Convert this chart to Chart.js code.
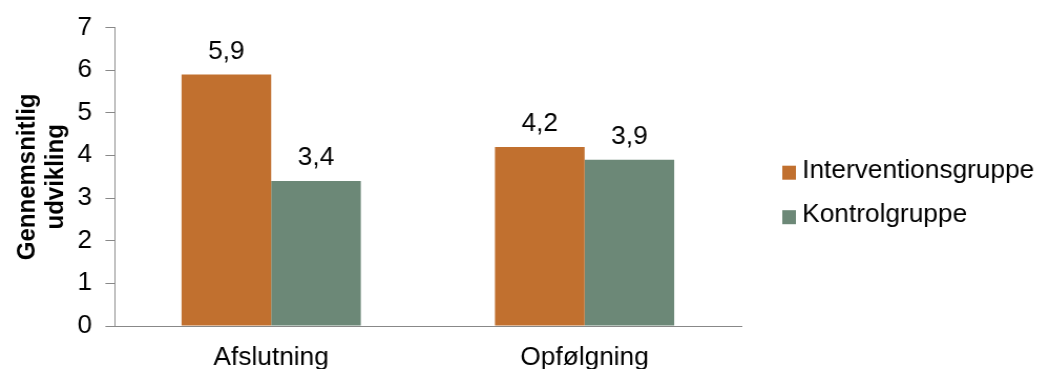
<!DOCTYPE html>
<html>
<head>
<meta charset="utf-8">
<script src="https://cdn.jsdelivr.net/npm/chart.js@4.4.1/dist/chart.umd.min.js"></script>
<style>
  html, body { margin: 0; padding: 0; background: #fff; overflow: hidden; width: 1038px; height: 369px; }
  /* laid out slightly narrower, then widened for the broad lettering */
  #wrap { width: 989px; height: 369px; position: relative; transform: scaleX(1.05); transform-origin: 0 0; }
</style>
</head>
<body>
<div id="wrap"><canvas id="chart"></canvas></div>
<script>
const categories = ["Afslutning", "Opfølgning"];
const interventionsgruppe = [5.9, 4.2];
const kontrolgruppe = [3.4, 3.9];
const yTicks = [0, 1, 2, 3, 4, 5, 6, 7];
const seriesNames = ["Interventionsgruppe", "Kontrolgruppe"];
const seriesColors = ["#C1702F", "#6C8877"];
const yTitle = ["Gennemsnitlig", "udvikling"];

const FONT = "'Liberation Sans', Arial, sans-serif";

// Writes each bar's value above it, with a decimal comma
const valueLabels = {
  id: "valueLabels",
  afterDatasetsDraw(chart) {
    const ctx = chart.ctx;
    ctx.save();
    ctx.font = "25px " + FONT;
    ctx.fillStyle = "#000";
    ctx.textAlign = "center";
    ctx.textBaseline = "alphabetic";
    chart.data.datasets.forEach((ds, i) => {
      chart.getDatasetMeta(i).data.forEach((bar, j) => {
        const txt = ds.data[j].toFixed(1).replace(".", ",");
        ctx.fillText(txt, bar.x, bar.y - 16);
      });
    });
    ctx.restore();
  }
};

// Series key to the right of the plot: square swatch + series name
const sideLegend = {
  id: "sideLegend",
  afterDraw(chart) {
    const ctx = chart.ctx;
    const area = chart.chartArea;
    const x0 = area.right + 39;
    ctx.save();
    ctx.font = "25px " + FONT;
    ctx.textAlign = "left";
    ctx.textBaseline = "middle";
    chart.data.datasets.forEach((ds, i) => {
      const cy = area.top + 145 + i * 44.5;
      ctx.fillStyle = ds.backgroundColor;
      ctx.fillRect(x0, cy - 7, 13, 14);
      ctx.fillStyle = "#000";
      ctx.fillText(ds.label, x0 + 19, cy - 2);
    });
    ctx.restore();
  }
};

new Chart(document.getElementById("chart"), {
  type: "bar",
  data: {
    labels: categories,
    datasets: [
      { label: seriesNames[0], data: interventionsgruppe, backgroundColor: seriesColors[0] },
      { label: seriesNames[1], data: kontrolgruppe, backgroundColor: seriesColors[1] }
    ]
  },
  options: {
    responsive: true,
    maintainAspectRatio: false,
    animation: false,
    layout: { padding: { top: 27, right: 283, left: 0, bottom: 0 } },
    datasets: { bar: { categoryPercentage: 0.572, barPercentage: 1.0 } },
    plugins: {
      legend: { display: false },
      tooltip: { enabled: false }
    },
    scales: {
      x: {
        afterFit(scale) { scale.height = 43; },
        grid: { display: false, drawTicks: false },
        border: { color: "#888", width: 1 },
        ticks: { font: { family: FONT, size: 25 }, color: "#000", padding: 17 }
      },
      y: {
        min: 0,
        max: 7,
        afterBuildTicks(scale) { scale.ticks = yTicks.map(v => ({ value: v })); },
        afterFit(scale) { scale.width = 109; },
        grid: { drawOnChartArea: false, drawTicks: true, tickLength: 8.6, color: "#888" },
        border: { color: "#888", width: 1 },
        ticks: { font: { family: FONT, size: 25 }, color: "#000", padding: 12.7 },
        title: {
          display: true,
          text: yTitle,
          font: { family: FONT, size: 24, weight: "bold", lineHeight: 1.12 },
          color: "#000",
          padding: { top: 13, bottom: 0 }
        }
      }
    }
  },
  plugins: [valueLabels, sideLegend]
});
</script>
</body>
</html>
